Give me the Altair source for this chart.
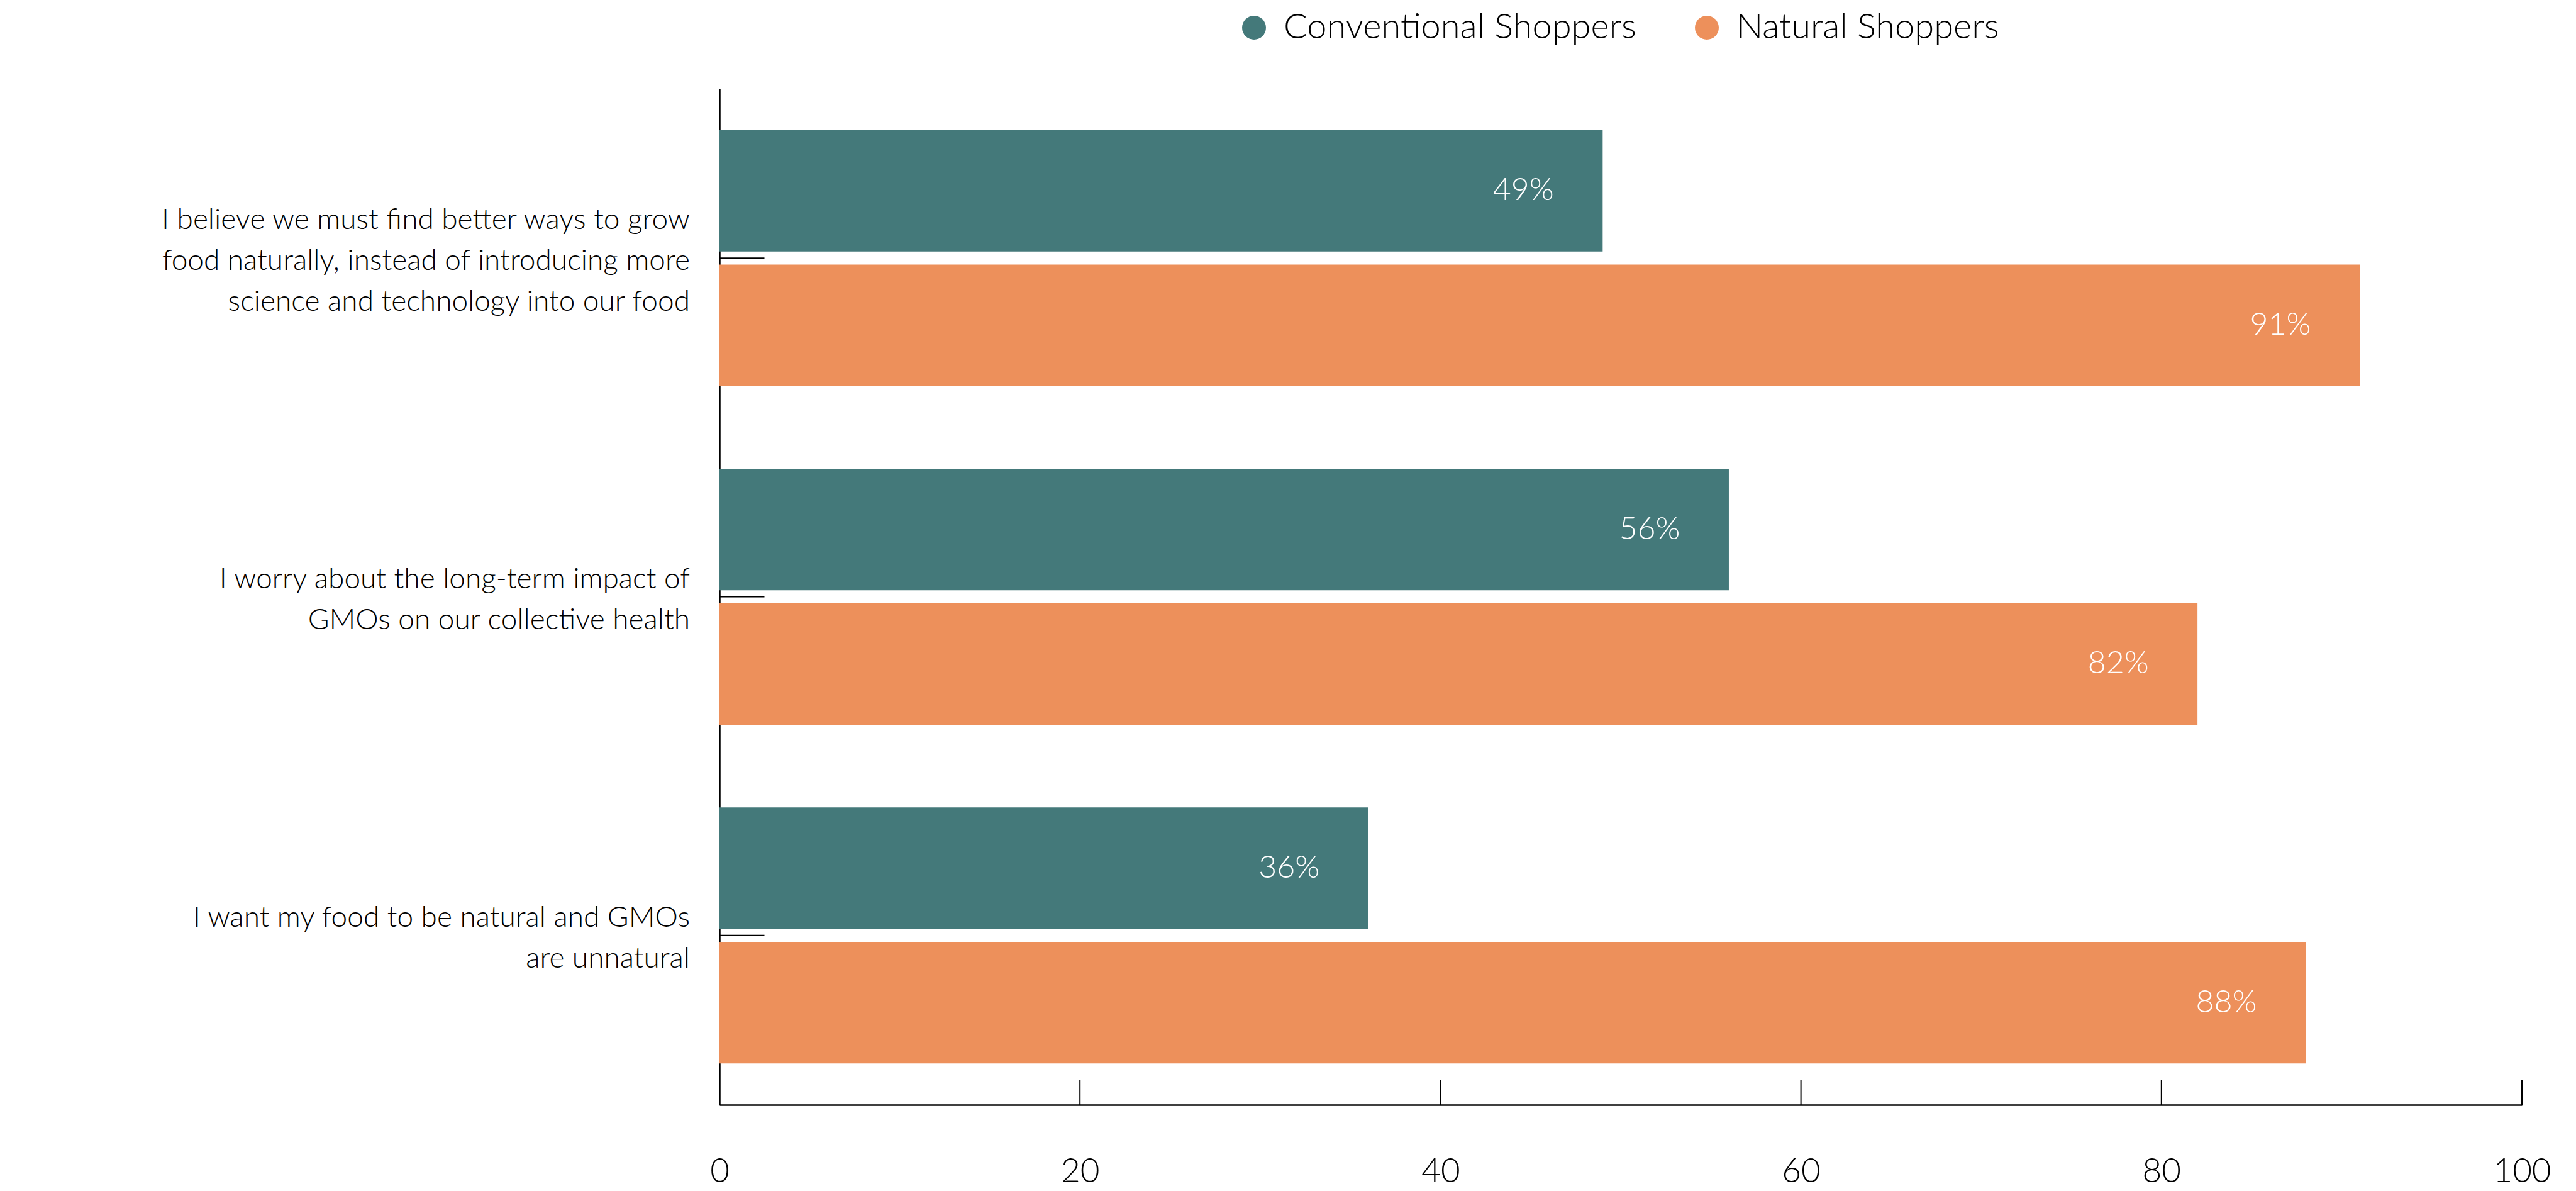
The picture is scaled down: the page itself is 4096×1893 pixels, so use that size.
import altair as alt
import pandas as pd

# ---- data ----
question_lines = [
    ["I believe we must find better ways to grow",
     "food naturally, instead of introducing more",
     "science and technology into our food"],
    ["I worry about the long-term impact of",
     "GMOs on our collective health"],
    ["I want my food to be natural and GMOs",
     "are unnatural"],
]
series_names = ["Conventional Shoppers", "Natural Shoppers"]
conventional = [49, 56, 36]
natural = [91, 82, 88]
x_ticks = [0, 20, 40, 60, 80, 100]
colors = ["#44797A", "#ED905B"]

questions = ["\n".join(l) for l in question_lines]

rows = []
for q, c, n in zip(questions, conventional, natural):
    rows.append({"q": q, "series": series_names[0], "value": c, "label": f"{c}%"})
    rows.append({"q": q, "series": series_names[1], "value": n, "label": f"{n}%"})
df = pd.DataFrame(rows)
df_q = pd.DataFrame({"q": questions, "n": [len(l) for l in question_lines]})
df_t = pd.DataFrame({"t": x_ticks})

FONT = "Lato"
W, H = 2866, 1615
LH = 65

x_scale = alt.Scale(domain=[0, 100], nice=False, zero=True)
y_scale = alt.Scale(paddingInner=0, paddingOuter=0)
yo_scale = alt.Scale(paddingInner=0.0963, paddingOuter=0.307)

X = alt.X("value:Q", scale=x_scale, title=None,
          axis=alt.Axis(values=x_ticks, labelFlush=False, labelOverlap=False))
Y = alt.Y("q:N", sort=questions, scale=y_scale, title=None,
          axis=alt.Axis(labels=False))
YO = alt.YOffset("series:N", sort=series_names, scale=yo_scale)

bars = alt.Chart(df).mark_bar().encode(
    x=X, y=Y, yOffset=YO,
    color=alt.Color("series:N", sort=series_names,
                    scale=alt.Scale(domain=series_names, range=colors),
                    legend=alt.Legend(
                        title=None, orient="none", direction="horizontal",
                        legendX=822, legendY=-125, symbolType="circle",
                        symbolSize=1444, symbolStrokeWidth=0, labelFontSize=56,
                        labelFont=FONT, labelFontWeight=300, labelColor="#000",
                        labelOffset=19, columnPadding=84, padding=0,
                        labelLimit=1000)),
)

text = alt.Chart(df).mark_text(
    align="center", baseline="middle", dx=-126, color="white",
    font=FONT, fontWeight=300, fontSize=50,
).encode(x=X, y=Y, yOffset=YO, text="label:N")

# category labels, one layer per line count so each block is centred on its band
label_layers = []
for n in sorted(set(df_q["n"])):
    label_layers.append(
        alt.Chart(df_q).transform_filter(f"datum.n == {n}")
        .transform_calculate(lines="split(datum.q, '\\n')")
        .mark_text(align="right", baseline="middle", font=FONT, fontWeight=300,
                   fontSize=46, lineHeight=LH, color="black",
                   dy=-(n - 1) * LH / 2 + 5)
        .encode(y=alt.Y("q:N", sort=questions, scale=y_scale, title=None),
                x=alt.value(-47), text="lines:N")
    )

y_ticks = alt.Chart(df_q).mark_rule(color="black", strokeWidth=2).encode(
    y=alt.Y("q:N", sort=questions, scale=y_scale, title=None),
    x=alt.value(0), x2=alt.value(71.5),
)

x_tick_rules = alt.Chart(df_t).mark_rule(color="black", strokeWidth=2).encode(
    x=alt.X("t:Q", scale=x_scale, title=None),
    y=alt.value(H), y2=alt.value(H - 40),
)

chart = alt.layer(bars, text, y_ticks, x_tick_rules, *label_layers).properties(
    width=W, height=H,
    autosize=alt.AutoSizeParams(type="none"),
    padding={"left": 1144, "top": 141, "right": 86, "bottom": 137},
).configure_view(stroke=None).configure_axis(
    domainColor="black", domainWidth=2.5, ticks=False, grid=False,
    labelFont=FONT, labelFontWeight=300, labelColor="black",
).configure_axisX(
    labelFontSize=53, labelPadding=106, labelBaseline="middle",
)

chart.save("out.html", embed_options={"renderer": "svg", "actions": False})
